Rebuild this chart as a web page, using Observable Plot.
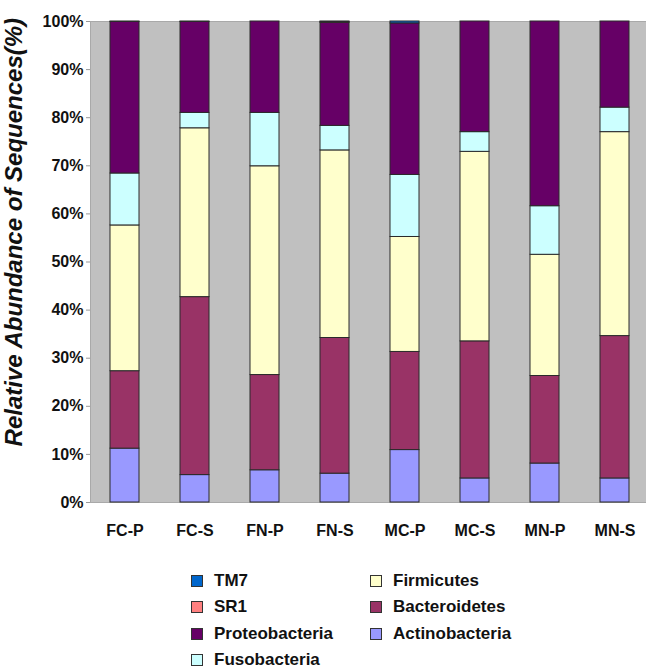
<!DOCTYPE html>
<html><head><meta charset="utf-8">
<script src="https://cdn.jsdelivr.net/npm/d3@7"></script>
<script src="https://cdn.jsdelivr.net/npm/@observablehq/plot@0.6"></script>
<style>
body{margin:0;background:#fff;font-family:"Liberation Sans",Arial,sans-serif;color:#111;}
#wrap{position:relative;width:646px;height:669px;overflow:hidden;}
.lg{position:absolute;display:flex;align-items:center;font-weight:bold;font-size:17px;height:26px;line-height:26px;white-space:nowrap;}
.sw{width:10px;height:10px;border:1px solid #333;margin-right:11px;flex:none;}
</style></head><body><div id="wrap"><div id="chart"></div></div>
<script>
const samples = ["FC-P","FC-S","FN-P","FN-S","MC-P","MC-S","MN-P","MN-S"];
const phyla = ["Actinobacteria","Bacteroidetes","Firmicutes","Fusobacteria","Proteobacteria","SR1","TM7"];
const phylumColors = ["#9999FF","#993366","#FFFFCC","#CCFFFF","#660066","#FF8080","#0066CC"];
const actinobacteria = [11.2, 5.7, 6.7, 6.0, 10.9, 5.0, 8.1, 5.0];
const bacteroidetes  = [16.1, 37.0, 19.8, 28.2, 20.4, 28.5, 18.2, 29.6];
const firmicutes     = [30.3, 35.1, 43.4, 39.0, 23.9, 39.4, 25.2, 42.4];
const fusobacteria   = [10.8, 3.2, 11.1, 5.1, 12.9, 4.1, 10.1, 5.1];
const proteobacteria = [31.5, 18.9, 19.0, 21.4, 31.5, 23.0, 38.4, 17.9];
const sr1            = [0.1, 0.1, 0, 0.2, 0, 0, 0, 0];
const tm7            = [0, 0, 0, 0.1, 0.4, 0, 0, 0];
const yTicks = [0,10,20,30,40,50,60,70,80,90,100];
const yLabel = "Relative Abundance of Sequences(%)";
const legendCol1 = ["TM7","SR1","Proteobacteria","Fusobacteria"];
const legendCol2 = ["Firmicutes","Bacteroidetes","Actinobacteria"];

const series = [actinobacteria, bacteroidetes, firmicutes, fusobacteria, proteobacteria, sr1, tm7];
const table = [];
phyla.forEach((p, i) => samples.forEach((s, j) => {
  if (series[i][j] > 0) table.push({sample: s, phylum: p, value: series[i][j]});
}));

const chart = Plot.plot({
  width: 646, height: 552,
  marginLeft: 90, marginRight: 0, marginTop: 21, marginBottom: 50,
  style: {fontFamily: "Liberation Sans, Arial, sans-serif", fontSize: "16px", color: "#111", background: "#fff"},
  x: {domain: samples, range: [90, 650], paddingInner: 0.58, paddingOuter: 0.29, label: null},
  y: {domain: [0, 100], label: null},
  color: {domain: phyla, range: phylumColors},
  marks: [
    Plot.frame({fill: "#C0C0C0", stroke: "#a9a9a9"}),
    Plot.barY(table, {x: "sample", y: "value", fill: "phylum", stroke: "#2a2a2a", strokeWidth: 1, order: phyla}),
    Plot.axisY({ticks: yTicks, tickFormat: d => d + "%", tickSize: 4, tickPadding: 3, fontSize: 16, fontWeight: "bold", stroke: "#999", fill: "#111", label: null}),
    Plot.axisX({tickSize: 0, tickPadding: 22, fontSize: 16, fontWeight: "bold", fill: "#111", label: null}),
    Plot.text([{t: yLabel, v: 56.2}], {text: "t", y: "v", frameAnchor: "left", dx: -76, rotate: -90, textAnchor: "middle", lineAnchor: "middle", fontSize: 24, fontStyle: "italic", fontWeight: "bold", fill: "#111"})
  ]
});
const wrap = document.getElementById("wrap");
document.getElementById("chart").appendChild(chart);

function addLegend(items, left) {
  items.forEach((name, i) => {
    const d = document.createElement("div");
    d.className = "lg";
    d.style.left = left + "px";
    d.style.top = (568 + 26.3 * i) + "px";
    const sw = document.createElement("span");
    sw.className = "sw";
    sw.style.background = phylumColors[phyla.indexOf(name)];
    d.appendChild(sw);
    d.appendChild(document.createTextNode(name));
    wrap.appendChild(d);
  });
}
addLegend(legendCol1, 191);
addLegend(legendCol2, 370);
</script></body></html>
